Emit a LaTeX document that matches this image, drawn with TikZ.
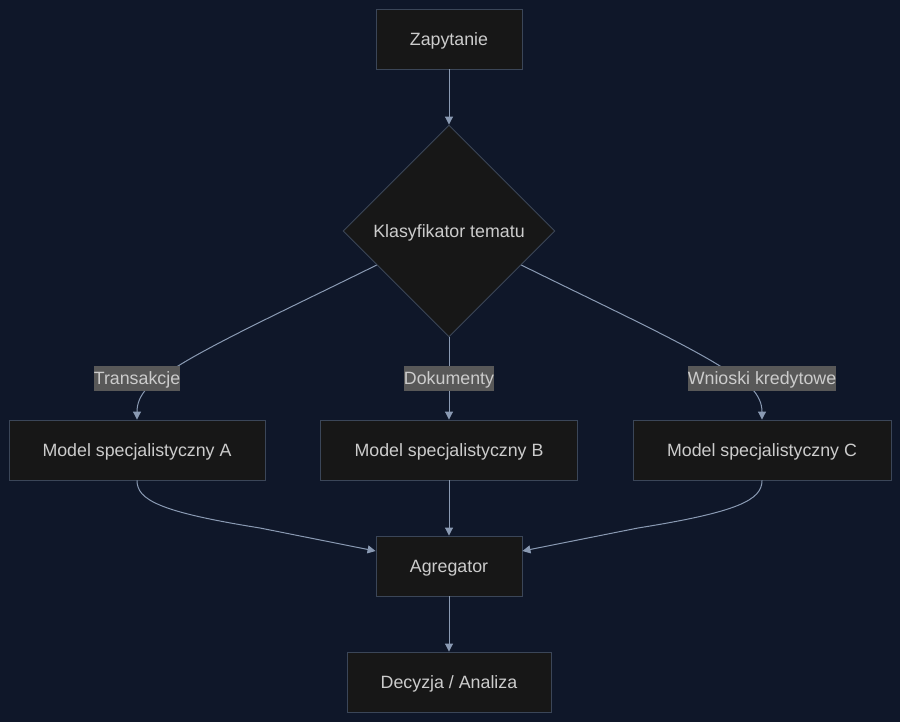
\documentclass[tikz,border=0pt]{standalone}
\usepackage{fontspec}
\setmainfont{Liberation Sans}
\usetikzlibrary{shapes.geometric,arrows.meta,calc}
\definecolor{bgc}{HTML}{0F1729}
\definecolor{nodefill}{HTML}{171717}
\definecolor{nodeline}{HTML}{3B4658}
\definecolor{edgec}{HTML}{8A9AB3}
\definecolor{txtc}{HTML}{CCCCCC}
\definecolor{lblbg}{HTML}{585858}
\newcommand{\dn}[1]{\raisebox{-2pt}[\height][\depth]{#1}}
\begin{document}
\begin{tikzpicture}[x=1pt,y=-1pt,
  box/.style={draw=nodeline, fill=nodefill, line width=0.9pt, text=txtc, inner sep=0pt, font=\fontsize{17.8}{21}\selectfont},
  dia/.style={diamond, draw=nodeline, fill=nodefill, line width=0.9pt, text=txtc, inner sep=0pt, minimum width=212pt, minimum height=212pt, font=\fontsize{17.8}{21}\selectfont},
  lbl/.style={fill=lblbg, text=txtc, inner sep=0pt, minimum height=25pt, font=\fontsize{17.8}{21}\selectfont},
  edge/.style={draw=edgec, line width=1pt, -{Triangle[length=8pt,width=8pt]}}
]
\fill[bgc] (0,0) rectangle (900,722);
\useasboundingbox (0,0) rectangle (900,722);

\node[box, minimum width=146pt, minimum height=60pt] (z) at (449,39) {\dn{Zapytanie}};
\node[dia] (k) at (449,231) {\dn{Klasyfikator tematu}};
\node[box, minimum width=256pt, minimum height=60pt] (a) at (137,450) {\dn{Model specjalistyczny A}};
\node[box, minimum width=257pt, minimum height=60pt] (b) at (449,450) {\dn{Model specjalistyczny B}};
\node[box, minimum width=258pt, minimum height=60pt] (c) at (762,450) {\dn{Model specjalistyczny C}};
\node[box, minimum width=146pt, minimum height=60pt] (g) at (449,566) {\dn{Agregator}};
\node[box, minimum width=204pt, minimum height=60pt] (d) at (449,682) {\dn{Decyzja / Analiza}};

\coordinate (kl) at ($(k.west)!0.32!(k.south)$);
\coordinate (kr) at ($(k.east)!0.32!(k.south)$);

\draw[edge] (z.south) -- (k.north);
\draw[edge] (kl) .. controls (300,303) and (220,340) .. (178,366) .. controls (150,381) and (137,395) .. (a.north);
\draw[edge] (k.south) -- (b.north);
\draw[edge] (kr) .. controls (598,303) and (678,340) .. (720,366) .. controls (748,381) and (762,395) .. (c.north);
\draw[edge] (a.south) .. controls (137,500) and (160,512) .. (260,528) -- ($(g.west)+(0,-15)$);
\draw[edge] (c.south) .. controls (762,500) and (738,512) .. (638,528) -- ($(g.east)+(0,-15)$);
\draw[edge] (b.south) -- (g.north);
\draw[edge] (g.south) -- (d.north);

\node[lbl, minimum width=86pt] (la) at (137,378.5) {\raisebox{-1pt}[\height][\depth]{Transakcje}};
\node[lbl, minimum width=90pt] (lb) at (449,378.5) {\raisebox{-1pt}[\height][\depth]{Dokumenty}};
\node[lbl, minimum width=148pt] (lc) at (762,378.5) {\raisebox{-1pt}[\height][\depth]{Wnioski kredytowe}};
\end{tikzpicture}
\end{document}
